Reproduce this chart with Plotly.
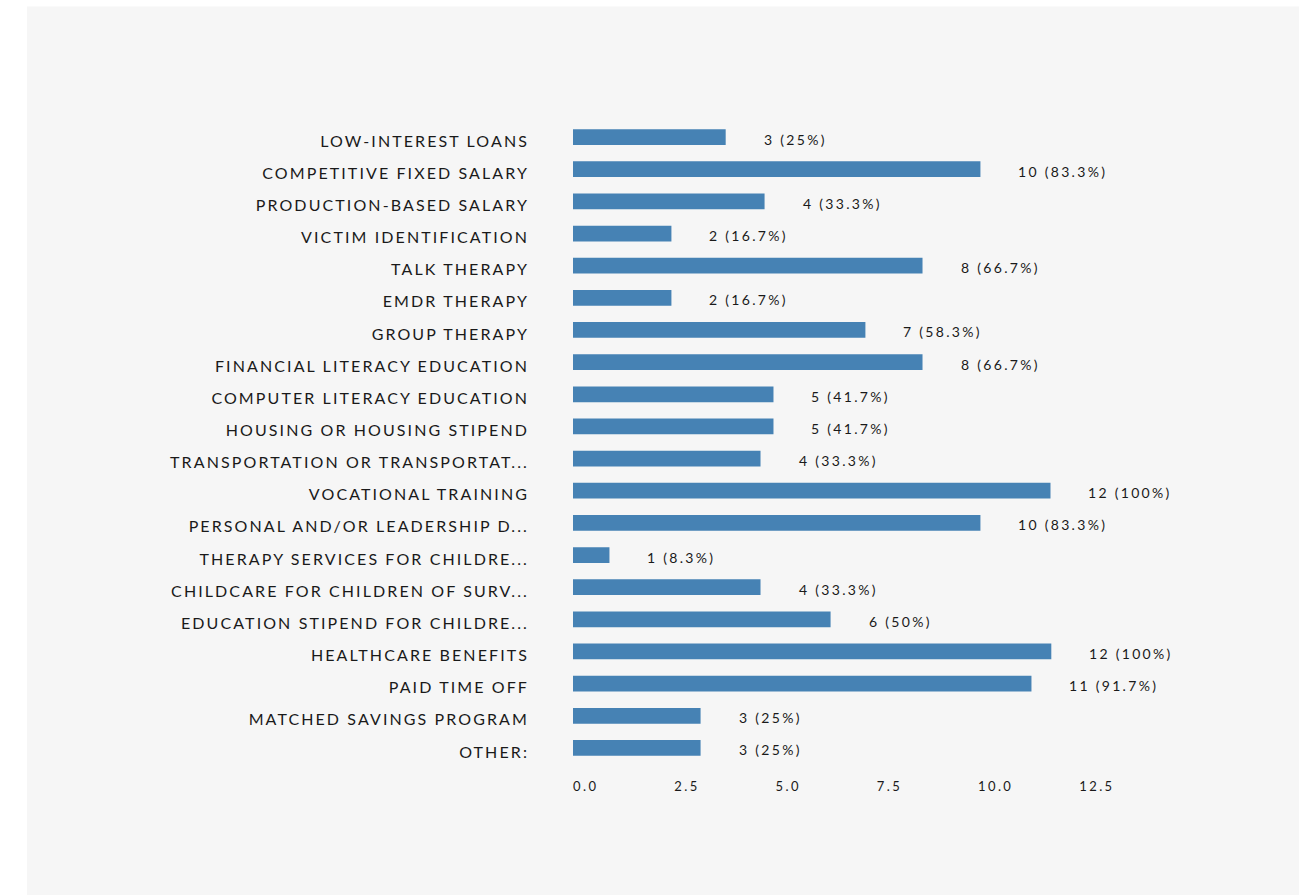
import plotly.graph_objects as go

categories = [
    "LOW-INTEREST LOANS",
    "COMPETITIVE FIXED SALARY",
    "PRODUCTION-BASED SALARY",
    "VICTIM IDENTIFICATION",
    "TALK THERAPY",
    "EMDR THERAPY",
    "GROUP THERAPY",
    "FINANCIAL LITERACY EDUCATION",
    "COMPUTER LITERACY EDUCATION",
    "HOUSING OR HOUSING STIPEND",
    "TRANSPORTATION OR TRANSPORTAT...",
    "VOCATIONAL TRAINING",
    "PERSONAL AND/OR LEADERSHIP D...",
    "THERAPY SERVICES FOR CHILDRE...",
    "CHILDCARE FOR CHILDREN OF SURV...",
    "EDUCATION STIPEND FOR CHILDRE...",
    "HEALTHCARE BENEFITS",
    "PAID TIME OFF",
    "MATCHED SAVINGS PROGRAM",
    "OTHER:",
]

# bar lengths as drawn in the picture (axis units)
bar_lengths = [3.77, 10.06, 4.73, 2.43, 8.63, 2.43, 7.22, 8.63, 4.95, 4.95,
               4.63, 11.79, 10.06, 0.90, 4.63, 6.36, 11.81, 11.32, 3.15, 3.15]

counts = [3, 10, 4, 2, 8, 2, 7, 8, 5, 5, 4, 12, 10, 1, 4, 6, 12, 11, 3, 3]
percents = ["25%", "83.3%", "33.3%", "16.7%", "66.7%", "16.7%", "58.3%", "66.7%",
            "41.7%", "41.7%", "33.3%", "100%", "83.3%", "8.3%", "33.3%", "50%",
            "100%", "91.7%", "25%", "25%"]

x_tickvals = [0, 2.5, 5, 7.5, 10, 12.5]
x_ticktext = ["0.0", "2.5", "5.0", "7.5", "10.0", "12.5"]

W, H = 1313, 895
ML, MR, MT, MB = 573, 173, 121.4, 130.9
plot_w = W - ML - MR
plot_h = H - MT - MB
x_max = 14.0

BAR_COLOR = "#4682b4"
TEXT_COLOR = "#1a1a1a"
FONT = "Lato, 'Open Sans', sans-serif"

fig = go.Figure()
fig.add_trace(go.Bar(
    x=bar_lengths,
    y=categories,
    orientation="h",
    marker=dict(color=BAR_COLOR, line=dict(width=0)),
    hoverinfo="skip",
))

for cat, v, c, p in zip(categories, bar_lengths, counts, percents):
    fig.add_annotation(
        x=v, y=cat, xref="x", yref="y",
        text=f'<span style="letter-spacing:2.3px">{c} ({p})</span>',
        showarrow=False, xanchor="left", yanchor="middle",
        xshift=36, yshift=-2,
        font=dict(family=FONT, size=14, color=TEXT_COLOR),
    )

def px_to_paper_x(px):
    return (px - ML) / plot_w

def px_to_paper_y(py):
    return (H - MB - py) / plot_h

fig.add_shape(
    type="rect", xref="paper", yref="paper", layer="below",
    x0=px_to_paper_x(27), x1=px_to_paper_x(1299),
    y0=px_to_paper_y(H + 5), y1=px_to_paper_y(7),
    fillcolor="#f6f6f6", line=dict(width=0),
)

fig.update_layout(
    width=W, height=H,
    margin=dict(l=ML, r=MR, t=MT, b=MB, pad=0),
    paper_bgcolor="white",
    plot_bgcolor="rgba(0,0,0,0)",
    bargap=0.51,
    showlegend=False,
    font=dict(family=FONT, color=TEXT_COLOR),
    xaxis=dict(
        range=[0, x_max],
        tickvals=x_tickvals,
        ticktext=[f'<span style="letter-spacing:2.4px">{t}</span>' for t in x_ticktext],
        ticklabelposition="outside right",
        showgrid=False, zeroline=False, showline=False, ticks="",
        tickfont=dict(family=FONT, size=13, color=TEXT_COLOR),
        ticklabelstandoff=13,
        fixedrange=True,
    ),
    yaxis=dict(
        type="category",
        categoryorder="array", categoryarray=categories,
        range=[len(categories) - 0.5, -0.5],
        tickvals=categories,
        ticktext=[f'<span style="letter-spacing:2.1px;baseline-shift:-3.5px">{c}</span>'
                  for c in categories],
        showgrid=False, zeroline=False, showline=False, ticks="",
        tickfont=dict(family=FONT, size=16, color=TEXT_COLOR),
        ticklabelstandoff=43,
        fixedrange=True,
    ),
)

fig.write_html("out.html", config={"displayModeBar": False})
